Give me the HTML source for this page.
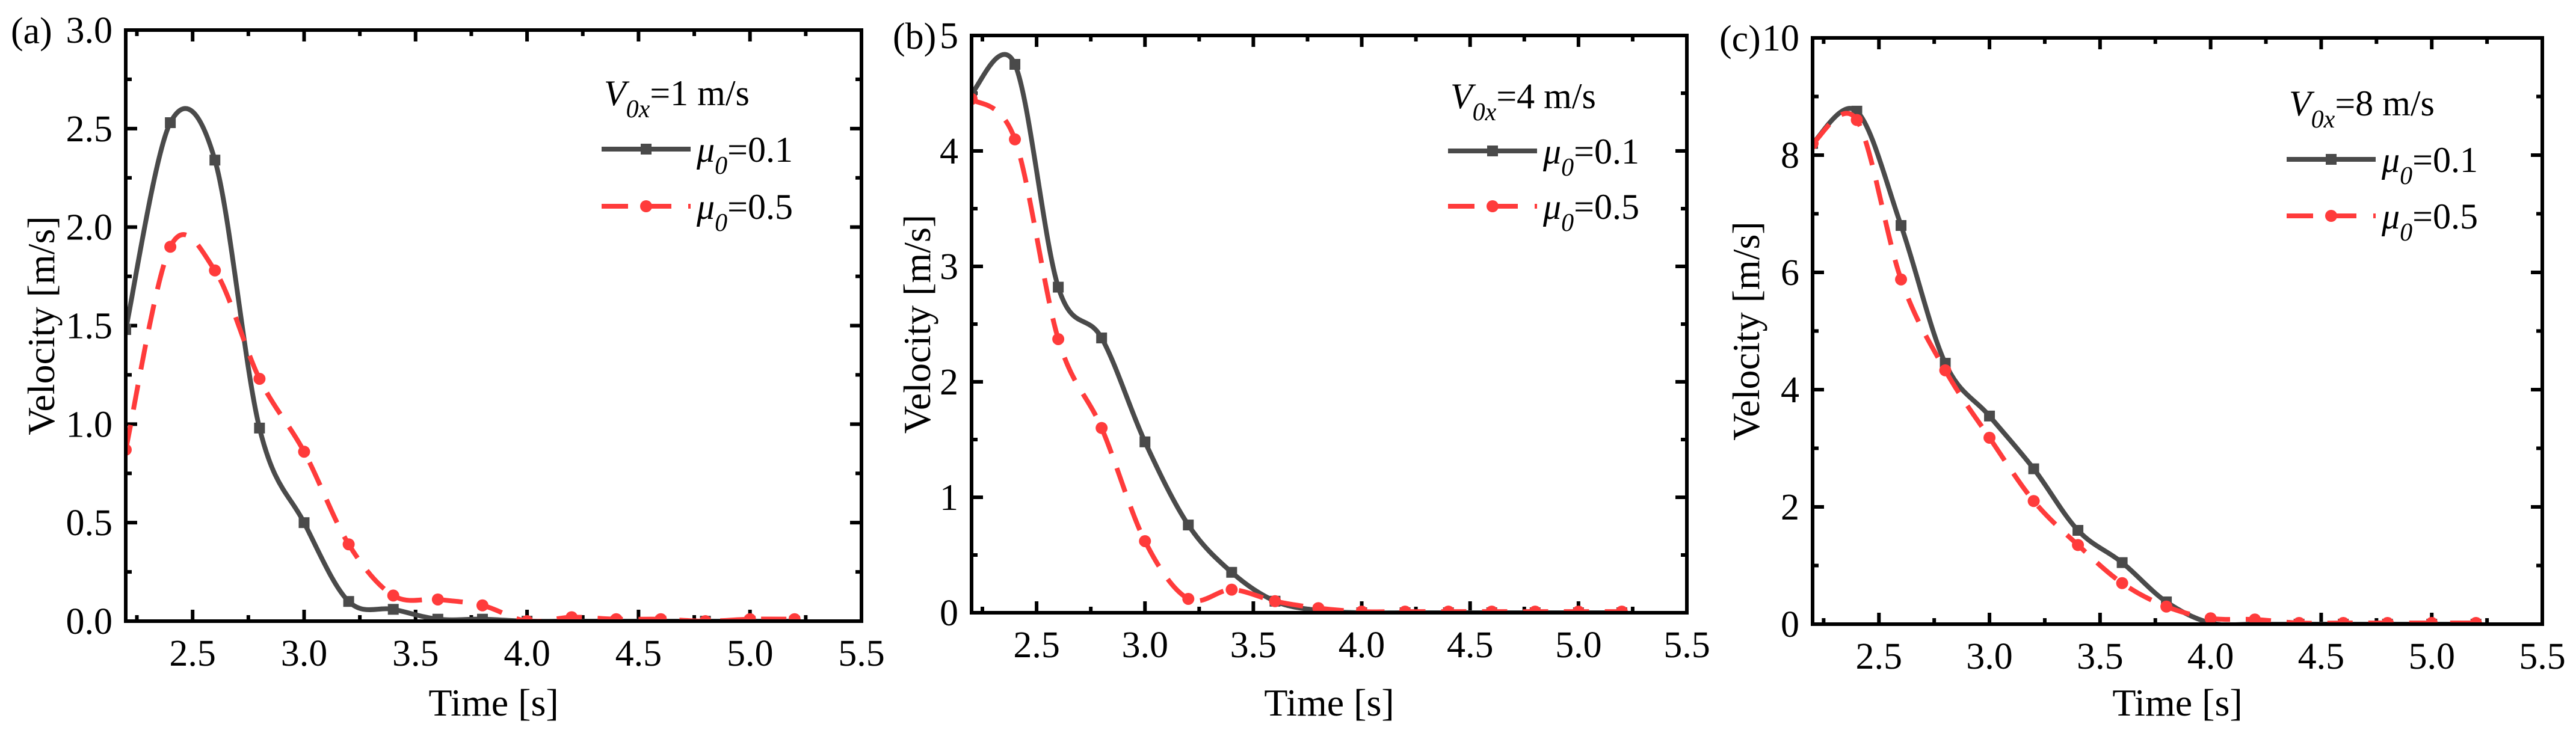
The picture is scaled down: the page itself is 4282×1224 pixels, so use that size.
<!DOCTYPE html>
<html><head><meta charset="utf-8"><style>
html,body{margin:0;padding:0;background:#fff;}
svg{display:block;}
text{font-family:"Liberation Serif",serif;fill:#000;}
</style></head><body>
<svg id="fig" width="4282" height="1224" viewBox="0 0 4282 1224" xmlns="http://www.w3.org/2000/svg"></svg>
<script>
const times = [2.2,2.4,2.6,2.8,3.0,3.2,3.4,3.6,3.8,4.0,4.2,4.4,4.6,4.8,5.0,5.2];
const xTicks = [2.5,3.0,3.5,4.0,4.5,5.0,5.5];
const xTickLabels = ["2.5","3.0","3.5","4.0","4.5","5.0","5.5"];
const aBlack = [1.48,2.53,2.34,0.98,0.50,0.10,0.06,0.01,0.01,0.0,0.0,0.0,0.0,0.0,0.0,0.0];
const aRed = [0.87,1.90,1.78,1.23,0.86,0.39,0.13,0.11,0.08,0.0,0.02,0.01,0.01,0.0,0.01,0.01];
const aYTicks = [0,0.5,1.0,1.5,2.0,2.5,3.0];
const aYLabels = ["0.0","0.5","1.0","1.5","2.0","2.5","3.0"];
const bBlack = [4.50,4.75,2.82,2.38,1.48,0.76,0.35,0.10,0.02,0.0,0.0,0.0,0.0,0.0,0.0,0.0];
const bRed = [4.45,4.10,2.37,1.60,0.62,0.12,0.20,0.10,0.04,0.01,0.01,0.01,0.01,0.01,0.01,0.01];
const bYTicks = [0,1,2,3,4,5];
const bYLabels = ["0","1","2","3","4","5"];
const cBlack = [8.20,8.75,6.80,4.45,3.55,2.65,1.60,1.05,0.38,0.02,0.0,0.0,0.0,0.0,0.0,0.0];
const cRed = [8.20,8.60,5.88,4.33,3.18,2.10,1.35,0.70,0.30,0.10,0.08,0.02,0.02,0.02,0.02,0.02];
const cYTicks = [0,2,4,6,8,10];
const cYLabels = ["0","2","4","6","8","10"];

const NS="http://www.w3.org/2000/svg";
const svg=document.getElementById('fig');
function mk(tag,attrs,parent){const e=document.createElementNS(NS,tag);for(const k in attrs)e.setAttribute(k,attrs[k]);(parent||svg).appendChild(e);return e;}

function spline(pts){
  let d=`M${pts[0][0]},${pts[0][1]}`;
  for(let i=0;i<pts.length-1;i++){
    const p0=pts[Math.max(0,i-1)],p1=pts[i],p2=pts[i+1],p3=pts[Math.min(pts.length-1,i+2)];
    const c1x=p1[0]+(p2[0]-p0[0])/6,c1y=p1[1]+(p2[1]-p0[1])/6;
    const c2x=p2[0]-(p3[0]-p1[0])/6,c2y=p2[1]-(p3[1]-p1[1])/6;
    d+=` C${c1x},${c1y} ${c2x},${c2y} ${p2[0]},${p2[1]}`;
  }
  return d;
}

const panels=[
 {id:'a',L:209,R:1432,T:50,B:1033,ymax:3,yt:aYTicks,yl:aYLabels,black:aBlack,red:aRed,v:'1',minorY:0.25,
  lx:1000,vy:175,l1:248,l2:343,tag:'(a)',tagx:18,yTitleX:68},
 {id:'b',L:1615,R:2804,T:59,B:1019,ymax:5,yt:bYTicks,yl:bYLabels,black:bBlack,red:bRed,v:'4',minorY:0.5,
  lx:2407,vy:180,l1:251,l2:343,tag:'(b)',tagx:1484,yTitleX:1524},
 {id:'c',L:3013,R:4226,T:63,B:1038,ymax:10,yt:cYTicks,yl:cYLabels,black:cBlack,red:cRed,v:'8',minorY:1,
  lx:3801,vy:192,l1:265,l2:359,tag:'(c)',tagx:2858,yTitleX:2902}
];

panels.forEach(p=>{
  const g=mk('g',{});
  
  
  const sx=v=>p.L+(v-2.2)/(5.5-2.2)*(p.R-p.L);
  const sy=v=>p.B-v/p.ymax*(p.B-p.T);
  const cid='clip'+p.id;
  const cp=mk('clipPath',{id:cid},g);mk('rect',{x:p.L,y:p.T,width:p.R-p.L,height:p.B-p.T},cp);
  const tk=mk('g',{stroke:'#000','stroke-width':6},g);
  
  
  for(let v=2.25;v<=5.5001;v+=0.25){
    const major=Math.abs(v*2-Math.round(v*2))<1e-6;const len=major?19:10;const x=sx(v);
    mk('line',{x1:x,y1:p.B,x2:x,y2:p.B-len},tk);mk('line',{x1:x,y1:p.T,x2:x,y2:p.T+len},tk);
  }
  for(let v=0;v<=p.ymax+1e-6;v+=p.minorY){
    const major=p.yt.some(t=>Math.abs(t-v)<1e-6);const len=major?19:10;const y=sy(v);
    mk('line',{x1:p.L,y1:y,x2:p.L+len,y2:y},tk);mk('line',{x1:p.R,y1:y,x2:p.R-len,y2:y},tk);
  }
  const sg=mk('g',{'clip-path':`url(#${cid})`},g);
  const bp=times.map((t,i)=>[sx(t),sy(p.black[i])]);
  const rp=times.map((t,i)=>[sx(t),sy(p.red[i])]);
  const bl=mk('path',{d:spline(bp),fill:'none',stroke:'#4a4a4a','stroke-width':8},sg);
  
  
  bp.forEach(q=>{const m=mk('rect',{x:q[0]-9,y:q[1]-9,width:18,height:18,fill:'#4a4a4a'},sg);
    
    });
  const rl=mk('path',{d:spline(rp),fill:'none',stroke:'#ff3b3b','stroke-width':8,'stroke-dasharray':'42 26'},sg);
  
  
  rp.forEach(q=>{const m=mk('circle',{cx:q[0],cy:q[1],r:10,fill:'#ff3b3b'},sg);
    
    });
  const fr=mk('rect',{x:p.L,y:p.T,width:p.R-p.L,height:p.B-p.T,fill:'none',stroke:'#000','stroke-width':6},g);
  
  
  xTicks.forEach((v,i)=>{const t=mk('text',{x:sx(v),y:p.B+74,'font-size':62,'text-anchor':'middle'},g);t.textContent=xTickLabels[i];
    
    });
  p.yt.forEach((v,i)=>{const t=mk('text',{x:p.L-22,y:sy(v)+21,'font-size':62,'text-anchor':'end'},g);t.textContent=p.yl[i];
    
    });
  const xt=mk('text',{x:(p.L+p.R)/2,y:1190,'font-size':64,'text-anchor':'middle'},g);xt.textContent='Time [s]';
  
  
  const yc=(p.T+p.B)/2;
  const yt=mk('text',{x:p.yTitleX,y:yc,'font-size':64,'text-anchor':'middle',transform:`rotate(-90 ${p.yTitleX} ${yc})`,dy:22},g);yt.textContent='Velocity [m/s]';
  
  
  const tg=mk('text',{x:p.tagx,y:p.T+22,'font-size':62},g);tg.textContent=p.tag;
  
  
  const lg=mk('g',{},g);
  
  
  const vt=mk('text',{x:p.lx+4,y:p.vy,'font-size':60},lg);
  vt.innerHTML=`<tspan font-style="italic">V</tspan><tspan font-style="italic" font-size="42" dy="20">0x</tspan><tspan dy="-20">=${p.v} m/s</tspan>`;
  
  
  [[p.l1,'#4a4a4a','0.1',null],[p.l2,'#ff3b3b','0.5','42 26']].forEach(([y,c,lab,da])=>{
    const e=mk('g',{},lg);
    
    
    const la={x1:p.lx,y1:y,x2:p.lx+148,y2:y,stroke:c,'stroke-width':8};if(da){la['stroke-dasharray']='44 28';}
    mk('line',la,e);
    if(da)mk('circle',{cx:p.lx+74,cy:y,r:10,fill:c},e);else mk('rect',{x:p.lx+65,y:y-9,width:18,height:18,fill:c},e);
    const t=mk('text',{x:p.lx+158,y:y+21,'font-size':60},e);
    t.innerHTML=`<tspan font-style="italic">μ</tspan><tspan font-style="italic" font-size="42" dy="20">0</tspan><tspan dy="-20">=${lab}</tspan>`;
  });
});
</script>
</body></html>
